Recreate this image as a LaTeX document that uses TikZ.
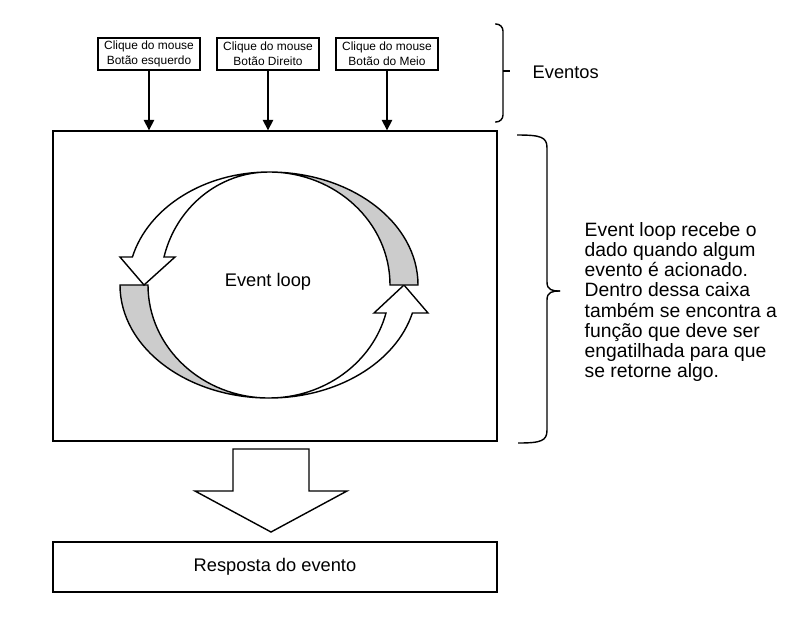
\documentclass[tikz,border=0pt]{standalone}
\usepackage{fontspec}
\setmainfont{Liberation Sans}
\usetikzlibrary{arrows.meta}
\definecolor{loopgray}{RGB}{204,204,204}

\begin{document}
\begin{tikzpicture}[x=0.02cm,y=-0.02cm,line width=0.8pt,
        click box/.style={draw,minimum width=2.04cm,minimum height=0.64cm,
          align=center,inner sep=1pt,font=\fontsize{6.8}{8.4}\selectfont},
        big box/.style={draw,minimum width=8.88cm},
        main text/.style={font=\fontsize{10.4}{12}\selectfont},
        side text/.style={font=\fontsize{11}{11.45}\selectfont,align=left,anchor=west,inner sep=0pt},
        click arrow/.style={-{Triangle[width=6pt,length=6pt]}}]
      \useasboundingbox (0,0) rectangle (790,623);
      % eventos
      \node[click box] (esq)  at (149,54) {Clique do mouse\\Botão esquerdo};
      \node[click box] (dir)  at (268,54) {Clique do mouse\\Botão Direito};
      \node[click box] (meio) at (387,54) {Clique do mouse\\Botão do Meio};
      \node[big box,minimum height=6.2cm] (loop) at (275,286) {};
      \node[main text] (evloop) at (268,282) {Event loop};
      \node[big box,minimum height=1cm,main text] (resp) at (275,567) {Resposta do evento};
      \draw[click arrow] (esq.south)  -- (esq.south |- loop.north);
      \draw[click arrow] (dir.south)  -- (dir.south |- loop.north);
      \draw[click arrow] (meio.south) -- (meio.south |- loop.north);
      % loop arrows
      \draw[fill=loopgray] (120,285) arc[start angle=180,end angle=90,x radius=149,y radius=113]
           arc[start angle=90,end angle=180,x radius=121,y radius=113] -- cycle;
      \draw[fill=white] (269,398) arc[start angle=90,end angle=14.35,x radius=148,y radius=113]
           -- (428,313) -- (404,285) -- (374,313) -- (386,313)
           arc[start angle=14.35,end angle=90,x radius=121,y radius=113] -- cycle;
      \draw[fill=loopgray] (418,285) arc[start angle=0,end angle=-90,x radius=149,y radius=113]
           arc[start angle=-90,end angle=0,x radius=121,y radius=113] -- cycle;
      \draw[fill=white] (269,172) arc[start angle=-90,end angle=-165.65,x radius=141,y radius=113]
           -- (120,257) -- (144,285) -- (175,257) -- (164,257)
           arc[start angle=-165.65,end angle=-90,x radius=108,y radius=113] -- cycle;
      % resposta
      \draw (233,449) -- (309,449) -- (309,491) -- (347,491) -- (271,532)
           -- (195,491) -- (233,491) -- cycle;
      % chaves
      \draw[rounded corners=4] (495,24) -- (503,24) -- (503,122) -- (495,122);
      \draw (503,71) -- (510,71);
      \node[main text,anchor=west,inner sep=0pt] (eventos) at (532,72) {Eventos};
      \draw (517,135) .. controls (541,135) and (547,137) .. (547,148) -- (547,282)
           .. controls (547,290) and (552,291) .. (560,291);
      \draw (560,291) .. controls (552,291) and (547,292) .. (547,300) -- (547,430)
           .. controls (547,441) and (541,443) .. (518,443);
      \node[side text] (descr) at (584,302) {Event loop recebe o\\dado quando algum\\evento é acionado.\\Dentro dessa caixa\\também se encontra a\\função que deve ser\\engatilhada para que\\se retorne algo.};
    \end{tikzpicture}
\end{document}
